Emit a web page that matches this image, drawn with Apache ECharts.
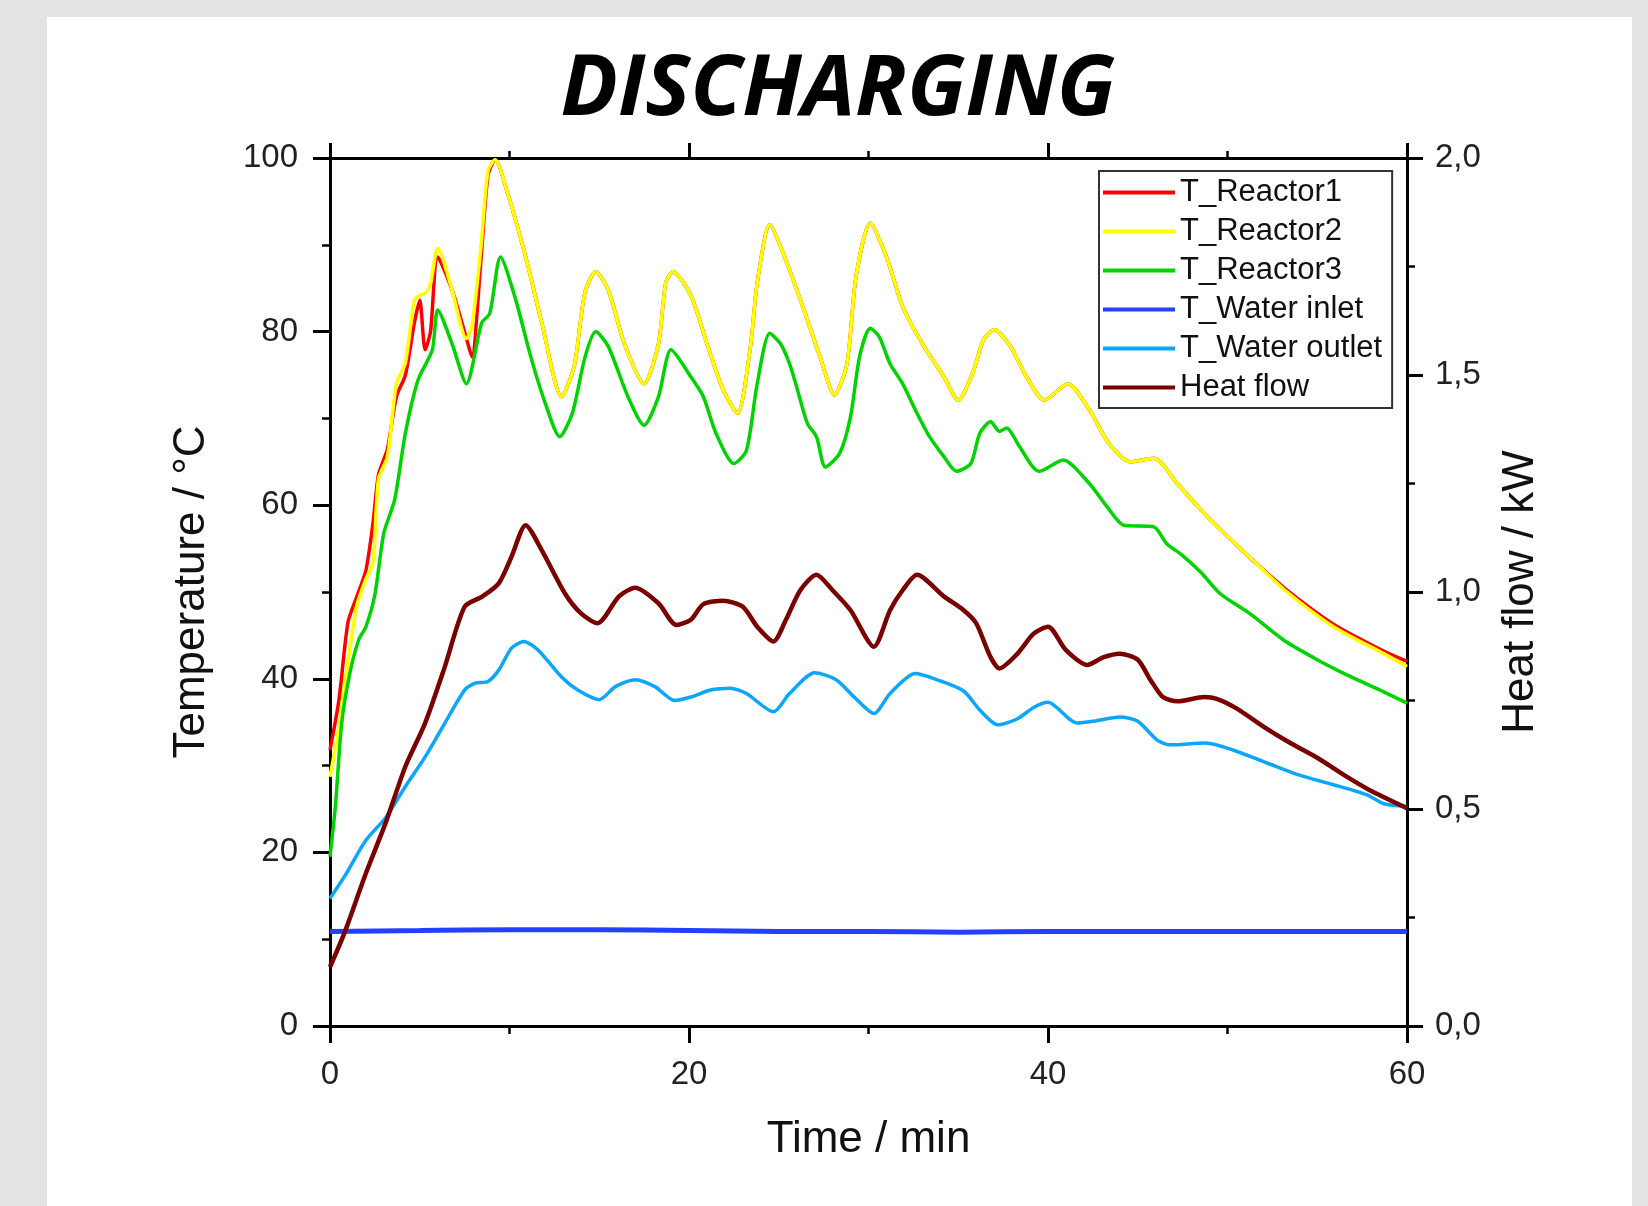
<!DOCTYPE html>
<html>
<head>
<meta charset="utf-8">
<title>DISCHARGING</title>
<script src="https://cdn.jsdelivr.net/npm/echarts@6/dist/echarts.min.js"></script>
<style>
  html, body { margin: 0; padding: 0; background: #e3e3e1; }
  #chart { width: 1648px; height: 1206px; }
</style>
</head>
<body>
<div id="chart"></div>
<script>
// time axis / min
var xTicks = [0, 20, 40, 60]

// T_Reactor1 and T_Reactor2 share the same sample times
var reactorTime = [0, 0.5, 1.0, 1.5, 2.0, 2.4, 2.7, 3.2, 3.7, 4.2, 4.7, 5.0, 5.3, 5.6, 6.0, 6.8, 7.6, 7.9, 8.4, 8.8,
  9.2, 9.9, 10.9, 11.8, 12.9, 13.6, 14.2, 14.8, 15.5, 16.4, 17.5, 18.3, 18.7, 19.1, 20.1, 21.0, 21.9, 22.7, 23.4, 23.8,
  24.5, 25.4, 26.4, 27.3, 28.1, 28.8, 29.3, 30.1, 31.0, 31.9, 33.0, 34.2, 35.0, 35.8, 36.4, 37.0, 37.9, 38.8, 39.8, 41.1,
  42.3, 43.4, 44.6, 45.9, 47.2, 48.5, 50.0, 51.6, 53.2, 55.9, 58.7, 60]
var reactor1 = [31.8, 37.6, 46.5, 49.5, 52.5, 58, 63.5, 66.5, 72.5, 75, 81, 83.6, 77.9, 80, 88.6, 84.8, 79.2, 77.1, 88, 98,
  99.8, 95.9, 88.6, 81, 72.5, 76, 84.5, 86.9, 84.8, 78.6, 74, 78.6, 85.6, 86.9, 84.2, 78.6, 73.3, 70.6, 77.9, 85.6,
  92.3, 88.2, 82.5, 77.1, 72.7, 76.3, 86.3, 92.5, 88.6, 82.9, 78.6, 74.8, 72.1, 75.2, 79, 80.2, 78.3, 74.8, 72.1, 74,
  71, 67.1, 65, 65.4, 62.5, 59.5, 56.4, 53.3, 50.4, 46.3, 43.2, 42]
var reactor2 = [28.7, 34.5, 42, 48.5, 51.5, 53.5, 63, 65.6, 74, 76.4, 83.6, 84.2, 84.4, 85.5, 89.6, 84.8, 79.2, 80.5, 89.5, 98.5,
  99.8, 95.9, 88.6, 81, 72.5, 76, 84.5, 86.9, 84.8, 78.6, 74, 78.6, 85.6, 86.9, 84.2, 78.6, 73.3, 70.6, 77.9, 85.6,
  92.3, 88.2, 82.5, 77.1, 72.7, 76.3, 86.3, 92.5, 88.6, 82.9, 78.6, 74.8, 72.1, 75.2, 79, 80.2, 78.3, 74.8, 72.1, 74,
  71, 67.1, 65, 65.4, 62.5, 59.5, 56.4, 53.3, 50.2, 46, 42.9, 41.4]

var reactor3Time = [0, 0.3, 0.65, 1.1, 1.6, 2.0, 2.5, 3.0, 3.6, 4.2, 4.9, 5.7, 6.0, 6.8, 7.6, 8.45, 8.9, 9.5, 10.3, 11.2,
  12.0, 12.8, 13.5, 14.2, 14.8, 15.5, 16.6, 17.5, 18.3, 19.0, 20.1, 20.8, 21.5, 22.5, 23.2, 23.8, 24.5, 25.1, 25.6, 26.0,
  26.6, 27.1, 27.6, 28.4, 29.0, 29.5, 30.1, 30.6, 31.2, 31.9, 32.7, 33.4, 34.2, 34.9, 35.7, 36.2, 36.8, 37.3, 37.7, 38.4,
  39.5, 40.85, 42.3, 43.3, 44.2, 45.9, 46.6, 47.5, 48.5, 49.6, 51.25, 53.1, 55.0, 56.8, 58.7, 60]
var reactor3 = [19.5, 25.3, 34.9, 40.6, 44.5, 46, 49.7, 56.8, 60.6, 68.3, 74.4, 77.9, 82.5, 78.6, 74, 81, 82.1, 88.6, 84, 77,
  71.7, 67.9, 70.6, 77, 80, 78.3, 72.5, 69.2, 72.5, 77.9, 74.8, 72.5, 68.3, 64.8, 66.3, 74, 79.8, 78.6, 76.3, 73.6,
  69.4, 67.9, 64.4, 66, 70.2, 77.1, 80.4, 79.4, 76.3, 74, 70.6, 67.9, 65.6, 63.9, 64.8, 68.3, 69.6, 68.5, 68.9, 66.8,
  63.9, 65.2, 62.5, 59.8, 57.7, 57.5, 55.6, 54.2, 52.3, 49.8, 47.5, 44.5, 42.2, 40.3, 38.5, 37.2]

var inletTime = [0, 5, 10, 15, 20, 25, 30, 35, 40, 45, 50, 55, 60]
var waterInlet = [10.9, 11.0, 11.1, 11.1, 11.0, 10.9, 10.9, 10.8, 10.9, 10.9, 10.9, 10.9, 10.9]

var outletTime = [0, 0.8, 2.0, 3.1, 4.2, 5.3, 6.4, 7.5, 8.1, 8.8, 9.4, 10.1, 10.8, 11.6, 12.9, 13.8, 15.0, 15.9, 17.0, 18.1,
  19.2, 20.1, 21.2, 22.3, 23.2, 24.7, 25.6, 27.0, 28.2, 29.2, 30.3, 31.2, 32.6, 33.8, 35.3, 36.2, 37.2, 38.3, 39.2, 40.0,
  41.6, 42.5, 44.0, 45.0, 46.1, 46.8, 48.8, 50.3, 52.2, 54.0, 55.9, 57.8, 58.7, 60]
var waterOutlet = [14.7, 17.2, 21.4, 24, 27.6, 31, 34.9, 38.7, 39.5, 39.7, 41, 43.5, 44.3, 43.3, 40.2, 38.7, 37.6, 39.1, 39.9, 39.1,
  37.5, 37.9, 38.7, 38.9, 38.3, 36.2, 38.3, 40.7, 39.9, 37.9, 36, 38.3, 40.6, 39.9, 38.6, 36.4, 34.7, 35.4, 36.7, 37.3,
  34.9, 35.1, 35.6, 35.1, 32.9, 32.4, 32.6, 31.8, 30.3, 28.9, 27.8, 26.6, 25.6, 25.3]

// heat flow / kW (right axis)
var heatTime = [0, 0.8, 2.0, 3.1, 4.2, 5.3, 6.4, 7.5, 8.5, 9.4, 10.1, 10.9, 11.8, 13.1, 14.0, 14.9, 16.1, 17.0, 18.3, 19.3,
  20.1, 20.8, 21.9, 23.0, 23.8, 24.7, 25.4, 26.2, 27.1, 28.0, 29.0, 30.3, 31.2, 31.9, 32.7, 34.2, 35.3, 36.0, 36.8, 37.3,
  38.3, 39.2, 40.0, 41.0, 42.2, 43.1, 44.0, 45.0, 45.7, 46.4, 47.2, 48.7, 49.4, 50.5, 52.0, 53.5, 55.0, 56.5, 57.9, 60]
var heatFlow = [0.136, 0.214, 0.352, 0.468, 0.598, 0.698, 0.828, 0.966, 0.99, 1.02, 1.08, 1.154, 1.096, 0.996, 0.95, 0.928, 0.99, 1.01, 0.974, 0.924,
  0.936, 0.972, 0.98, 0.966, 0.92, 0.886, 0.936, 1.004, 1.04, 1.004, 0.958, 0.874, 0.958, 1.004, 1.04, 0.99, 0.958, 0.928, 0.85, 0.824,
  0.858, 0.904, 0.92, 0.866, 0.832, 0.85, 0.858, 0.844, 0.798, 0.758, 0.748, 0.758, 0.754, 0.732, 0.69, 0.652, 0.618, 0.578, 0.544, 0.502]

var tempTicks = [0, 20, 40, 60, 80, 100]
var heatTicks = ['0,0', '0,5', '1,0', '1,5', '2,0']

function pairs(times, values) {
  return times.map(function (t, i) { return [t, values[i]] })
}

var font = 'Liberation Sans'
var chart = echarts.init(document.getElementById('chart'))

function lineSeries(name, color, data, yIndex, width) {
  return {
    name: name,
    type: 'line',
    yAxisIndex: yIndex,
    showSymbol: false,
    symbol: 'none',
    smooth: 0.25,
    color: color,
    itemStyle: { color: color },
    lineStyle: { color: color, width: width },
    data: data
  }
}

var tickStyle = { color: '#000', width: 3 }
var minorStyle = { color: '#000', width: 2.5 }

chart.setOption({
  animation: false,
  backgroundColor: '#e3e3e1',
  graphic: [
    {
      type: 'rect',
      z: -10,
      shape: { x: 47, y: 17, width: 1585, height: 1200 },
      style: { fill: '#ffffff' }
    },
    {
      type: 'text',
      x: 838,
      y: 91,
      style: {
        text: 'DISCHARGING',
        fill: '#000',
        font: 'italic bold 85px "Open Sans"',
        align: 'center',
        verticalAlign: 'middle'
      }
    }
  ],
  grid: { left: 330, right: 241, top: 158, bottom: 180, containLabel: false },
  legend: {
    orient: 'vertical',
    left: 1099,
    top: 171,
    padding: [6, 10, 5, 4],
    itemWidth: 72,
    itemHeight: 4,
    itemGap: 8,
    icon: 'rect',
    borderColor: '#333',
    borderWidth: 2,
    backgroundColor: '#fff',
    textStyle: { fontFamily: font, fontSize: 31, lineHeight: 31, color: '#111' },
    data: ['T_Reactor1', 'T_Reactor2', 'T_Reactor3', 'T_Water inlet', 'T_Water outlet', 'Heat flow']
  },
  xAxis: [
    {
      type: 'value',
      min: xTicks[0],
      max: xTicks[xTicks.length - 1],
      interval: 20,
      name: 'Time / min',
      nameLocation: 'middle',
      nameGap: 92,
      nameTextStyle: { fontFamily: font, fontSize: 44, color: '#111' },
      axisLine: { onZero: false, lineStyle: { color: '#000', width: 3 } },
      axisTick: { length: 17, lineStyle: tickStyle },
      minorTick: { show: true, splitNumber: 2, length: 8, lineStyle: minorStyle },
      axisLabel: { margin: 32, fontFamily: font, fontSize: 33, color: '#222' },
      splitLine: { show: false }
    },
    {
      type: 'value',
      position: 'top',
      min: 0,
      max: 60,
      interval: 20,
      axisLine: { onZero: false, lineStyle: { color: '#000', width: 3 } },
      axisTick: { length: 15, lineStyle: tickStyle },
      minorTick: { show: true, splitNumber: 2, length: 7, lineStyle: minorStyle },
      axisLabel: { show: false },
      splitLine: { show: false }
    }
  ],
  yAxis: [
    {
      type: 'value',
      min: tempTicks[0],
      max: tempTicks[tempTicks.length - 1],
      interval: 20,
      name: 'Temperature / °C',
      nameLocation: 'middle',
      nameRotate: 90,
      nameGap: 116,
      nameTextStyle: { fontFamily: font, fontSize: 44, color: '#111' },
      axisLine: { show: true, onZero: false, lineStyle: { color: '#000', width: 3 } },
      axisTick: { show: true, length: 17, lineStyle: tickStyle },
      minorTick: { show: true, splitNumber: 2, length: 8, lineStyle: minorStyle },
      axisLabel: { margin: 32, fontFamily: font, fontSize: 33, color: '#222' },
      splitLine: { show: false }
    },
    {
      type: 'value',
      position: 'right',
      min: 0,
      max: 2,
      interval: 0.5,
      name: 'Heat flow / kW',
      nameLocation: 'middle',
      nameRotate: 90,
      nameGap: 92,
      nameTextStyle: { fontFamily: font, fontSize: 44, color: '#111' },
      axisLine: { show: true, onZero: false, lineStyle: { color: '#000', width: 3 } },
      axisTick: { show: true, length: 16, lineStyle: tickStyle },
      minorTick: { show: true, splitNumber: 2, length: 8, lineStyle: minorStyle },
      axisLabel: {
        margin: 28,
        fontFamily: font,
        fontSize: 33,
        color: '#222',
        formatter: function (v) { return heatTicks[Math.round(v * 2)] }
      },
      splitLine: { show: false }
    }
  ],
  series: [
    lineSeries('T_Reactor1', '#ff0000', pairs(reactorTime, reactor1), 0, 3.5),
    lineSeries('T_Reactor2', '#ffff00', pairs(reactorTime, reactor2), 0, 3.5),
    lineSeries('T_Reactor3', '#00d400', pairs(reactor3Time, reactor3), 0, 3.5),
    lineSeries('T_Water inlet', '#2440ff', pairs(inletTime, waterInlet), 0, 5),
    lineSeries('T_Water outlet', '#0aa6ff', pairs(outletTime, waterOutlet), 0, 3.5),
    lineSeries('Heat flow', '#7b0000', pairs(heatTime, heatFlow), 1, 4.5)
  ]
})
</script>
</body>
</html>
